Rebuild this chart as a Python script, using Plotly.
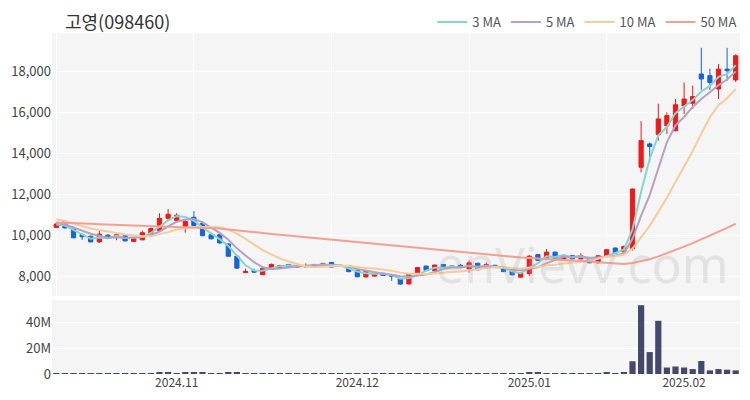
import plotly.graph_objects as go
import pandas as pd

dates = [
    "2024-10-14","2024-10-15","2024-10-16","2024-10-17","2024-10-18","2024-10-21","2024-10-22",
    "2024-10-23","2024-10-24","2024-10-25","2024-10-28","2024-10-29","2024-10-30","2024-10-31",
    "2024-11-01","2024-11-04","2024-11-05","2024-11-06","2024-11-07","2024-11-08","2024-11-11",
    "2024-11-12","2024-11-13","2024-11-14","2024-11-15","2024-11-18","2024-11-19","2024-11-20",
    "2024-11-21","2024-11-22","2024-11-25","2024-11-26","2024-11-27","2024-11-28","2024-11-29",
    "2024-12-02","2024-12-03","2024-12-04","2024-12-05","2024-12-06","2024-12-09","2024-12-10",
    "2024-12-11","2024-12-12","2024-12-13","2024-12-16","2024-12-17","2024-12-18","2024-12-19",
    "2024-12-20","2024-12-23","2024-12-24","2024-12-26","2024-12-27","2024-12-30",
    "2025-01-02","2025-01-03","2025-01-06","2025-01-07","2025-01-08","2025-01-09","2025-01-10",
    "2025-01-13","2025-01-14","2025-01-15","2025-01-16","2025-01-17","2025-01-20","2025-01-21",
    "2025-01-22","2025-01-23","2025-01-24","2025-01-31",
    "2025-02-03","2025-02-04","2025-02-05","2025-02-06","2025-02-07","2025-02-10","2025-02-11",
]

opens = [10400,10700,10330,10050,9980,9700,10030,9950,10000,9720,9800,10100,10250,10850,
         10750,10450,10900,10600,10050,10050,9600,9000,8200,8300,8100,8350,8450,8600,
         8470,8480,8500,8540,8700,8560,8550,8320,7990,8030,8170,8100,7900,7650,
         8180,8520,8290,8600,8530,8560,8380,8660,8450,8560,8450,8330,7980,
         8150,9080,8870,9200,8790,9030,8870,8900,8680,9000,9400,9220,9380,13340,
         14480,14930,15370,15120,16340,16460,17890,17810,17160,18130,17600]
highs = [10650,10720,10350,10050,10000,10230,10080,10100,10050,9920,10250,10400,11100,11300,
         11100,10800,11200,10700,10080,10080,9620,9020,8400,8400,8420,8650,8580,8620,
         8580,8650,8620,8680,8720,8570,8560,8340,8280,8180,8180,8120,7900,8170,
         8470,8540,8590,8620,8550,8620,8800,8680,8700,8580,8470,8340,8200,
         9060,9120,9350,9230,9070,9050,9150,8920,9060,9350,9430,9520,12300,15590,
         14550,16440,16020,16670,17480,17320,19170,18150,18380,19170,18850]
lows = [10400,10350,9880,9800,9680,9650,9850,9780,9720,9700,9780,10080,10230,10750,
        10700,10150,10480,9980,9830,9620,8980,8400,8180,8200,8080,8330,8420,8480,
        8450,8460,8480,8520,8450,8480,8220,7970,7970,8000,8040,7800,7610,7610,
        8160,8280,8270,8440,8440,8430,8200,8320,8440,8430,8230,8070,7960,
        8050,8780,8850,8880,8770,8850,8850,8660,8650,8980,9140,9200,9280,13090,
        13580,14640,14960,15100,15940,16180,17120,17120,16670,17560,17500]
closes = [10570,10380,9900,9950,9700,10080,9870,10050,9750,9900,10150,10350,10850,11050,
          11000,10700,10500,10000,9850,9650,9000,8420,8260,8220,8400,8600,8550,8500,
          8550,8540,8600,8650,8470,8500,8250,8000,8260,8160,8060,8020,7640,8150,
          8450,8300,8570,8460,8460,8450,8680,8340,8600,8450,8250,8090,8180,
          9000,8800,9200,8900,9050,8870,9020,8680,9020,9320,9160,9480,12280,14640,
          14350,15700,15860,16390,16670,16790,17650,17480,18130,18050,18780]
volumes = [400e3,350e3,400e3,300e3,300e3,350e3,250e3,250e3,300e3,250e3,400e3,500e3,1.2e6,1.0e6,
           600e3,1.5e6,900e3,1.3e6,700e3,600e3,800e3,900e3,600e3,400e3,400e3,350e3,300e3,300e3,
           300e3,300e3,300e3,300e3,350e3,250e3,300e3,350e3,300e3,250e3,250e3,300e3,400e3,450e3,
           400e3,300e3,300e3,250e3,250e3,250e3,400e3,300e3,300e3,250e3,300e3,350e3,300e3,
           1.5e6,900e3,700e3,500e3,400e3,300e3,300e3,300e3,700e3,800e3,600e3,900e3,9.8e6,53e6,
           16.9e6,41e6,5.0e6,5.8e6,5.0e6,3.8e6,10e6,2.8e6,3.8e6,3.3e6,2.8e6]

# moving-average values read from the chart where the earlier history is not shown
ma3_early = [10550, 10500]
ma5_early = [10650, 10550, 10400, 10250]
ma10_early = [10800, 10720, 10600, 10480, 10350, 10280, 10200, 10120, 10060]
ma50_early = [10650,10640,10620,10600,10580,10560,10540,10520,10500,10480,10470,10460,10450,
              10440,10430,10420,10410,10400,10380,10350,10310,10260,10210,10170,10130,10090,
              10050,10010,9970,9930,9890,9850,9810,9770,9730,9690,9650,9610,9570,9530,9490,
              9450,9410,9370,9330,9290,9250,9210,9170]

ma_names = ["3 MA", "5 MA", "10 MA", "50 MA"]
ma_periods = [3, 5, 10, 50]
ma_colors = ["#86d6cb", "#b7a0c6", "#f5cc9c", "#f4a090"]

tick_dates = ["2024-11-01", "2024-12-02", "2025-01-02", "2025-02-03"]
tick_labels = ["2024.11", "2024.12", "2025.01", "2025.02"]
grid_dates = [dates[0], dates[16], dates[32], dates[48], dates[64]]
price_ticks = [8000, 10000, 12000, 14000, 16000, 18000]
vol_ticks = [0, 20e6, 40e6]
vol_labels = ["0", "20M", "40M"]


def moving_average(n, early):
    rolled = pd.Series(closes).rolling(n).mean().tolist()
    return early + rolled[len(early):]


ma_early = [ma3_early, ma5_early, ma10_early, ma50_early]

FONT = "Noto Sans CJK KR"
fig = go.Figure()

fig.add_trace(go.Candlestick(
    x=dates, open=opens, high=highs, low=lows, close=closes,
    increasing=dict(line=dict(color="#ee1a1a", width=1), fillcolor="#ee1a1a"),
    decreasing=dict(line=dict(color="#1763d8", width=1), fillcolor="#1763d8"),
    whiskerwidth=0, showlegend=False, hoverinfo="skip", xaxis="x", yaxis="y",
))

for name, n, col, early in zip(ma_names, ma_periods, ma_colors, ma_early):
    fig.add_trace(go.Scatter(
        x=dates, y=moving_average(n, early), mode="lines", name=name,
        line=dict(color=col, width=2), hoverinfo="skip", xaxis="x", yaxis="y",
    ))

fig.add_trace(go.Bar(
    x=dates, y=volumes, marker=dict(color="#46476c", line=dict(width=0)),
    showlegend=False, hoverinfo="skip", xaxis="x2", yaxis="y2",
))

n = len(dates)
fig.update_layout(
    width=750, height=400,
    margin=dict(l=44, r=18, t=25, b=34, autoexpand=False),
    paper_bgcolor="white", plot_bgcolor="#f5f5f5",
    font=dict(family=FONT, size=12, color="#444"),
    bargap=0.28, boxgap=0.3,
    xaxis=dict(type="category", range=[-0.5, n - 0.5], tickvals=grid_dates,
               showticklabels=False, showgrid=True, gridcolor="white", gridwidth=1,
               zeroline=False, showline=False, ticks="", rangeslider=dict(visible=False),
               anchor="y", automargin=False),
    xaxis2=dict(type="category", range=[-0.5, n - 0.5], tickvals=tick_dates,
                ticktext=tick_labels, showgrid=False, zeroline=False, showline=False,
                ticks="", tickfont=dict(size=12, color="#444"), anchor="y2", automargin=False),
    yaxis=dict(domain=[0.2287, 1], range=[7060, 19890], tickvals=price_ticks,
               tickformat=",d", showgrid=True, gridcolor="white", gridwidth=1,
               zeroline=False, ticks="", tickfont=dict(size=13, color="#444"), automargin=False),
    yaxis2=dict(domain=[0, 0.217], range=[0, 57e6], tickvals=vol_ticks, ticktext=vol_labels,
                showgrid=True, gridcolor="white", gridwidth=1, zeroline=False, ticks="",
                tickfont=dict(size=13, color="#444"), automargin=False),
    legend=dict(orientation="h", xref="container", x=0.979, xanchor="right",
                yref="container", y=0.965, yanchor="middle",
                font=dict(size=13, color="#555"), bgcolor="rgba(0,0,0,0)",
                itemwidth=30, tracegroupgap=0),
    annotations=[
        dict(text="고영(098460)", xref="paper", yref="paper", x=0.016, y=1.0,
             xanchor="left", yanchor="middle", yshift=12, showarrow=False,
             font=dict(family=FONT, size=18, color="#333")),
        dict(text="enVievv.com", xref="paper", yref="paper", x=0.985, y=0.2287,
             xanchor="right", yanchor="bottom", yshift=-4, showarrow=False,
             font=dict(family="Noto Sans", size=50, color="rgba(170,170,170,0.25)")),
    ],
)

fig.write_html("out.html")
